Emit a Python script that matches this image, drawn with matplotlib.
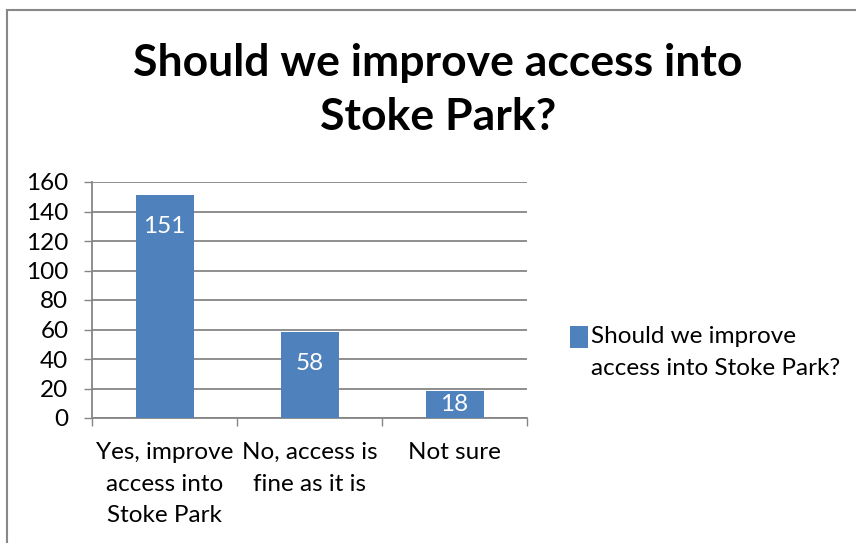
import matplotlib.pyplot as plt
from matplotlib.patches import Rectangle
from matplotlib.legend_handler import HandlerPatch

categories = ["Yes, improve\naccess into\nStoke Park", "No, access is\nfine as it is", "Not sure"]
values = [151, 58, 18]
series_name = "Should we improve\naccess into Stoke Park?"
title = "Should we improve access into\nStoke Park?"
yticks = [0, 20, 40, 60, 80, 100, 120, 140, 160]

plt.rcParams['font.family'] = ['Lato', 'DejaVu Sans']
bar_color = "#4F81BD"
grid_color = "#868686"
fs = 17.5

fig = plt.figure(figsize=(8.56, 5.43), dpi=100)
ax = fig.add_axes([92 / 856, 1 - 418 / 543, 435 / 856, 236 / 543])

x = list(range(len(categories)))
bars = ax.bar(x, values, width=0.4, color=bar_color, label=series_name, zorder=3)

# value labels inside the bar ends
for xi, v in zip(x, values):
    ypos = max(v - 21, v / 2)
    ax.text(xi, ypos, str(v), ha="center", va="center", color="white", fontsize=fs, zorder=4)

ax.set_xlim(-0.5, len(categories) - 0.5)
ax.set_ylim(0, 160)
ax.set_yticks(yticks)
ax.yaxis.grid(True, color=grid_color, lw=1.3, zorder=0)
ax.tick_params(axis="y", labelsize=fs, length=6, color=grid_color, width=1, pad=11)

# tick marks at category boundaries, labels at category centres
ax.set_xticks([i - 0.5 for i in range(len(categories) + 1)])
ax.set_xticklabels([])
ax.set_xticks(x, minor=True)
ax.set_xticklabels(categories, minor=True, fontsize=fs, linespacing=1.62, va="top")
ax.tick_params(axis="x", which="major", length=6, color=grid_color, width=1)
ax.tick_params(axis="x", which="minor", length=0, pad=17.5)

for s in ["top", "right"]:
    ax.spines[s].set_visible(False)
for s in ["left", "bottom"]:
    ax.spines[s].set_color(grid_color)
    ax.spines[s].set_linewidth(1.3)

fig.text(438 / 856, 1 - 90 / 543, title, ha="center", va="center", fontsize=32,
         fontweight="bold", linespacing=1.4)


def small_square(legend, orig_handle, xdescent, ydescent, width, height, fontsize):
    side = 0.46 * fontsize
    return Rectangle((-xdescent, -ydescent + (height - side) / 2), side, side)


leg = ax.legend(loc="upper left", bbox_to_anchor=(1.077, 0.43), frameon=False, fontsize=fs,
                handlelength=0.75, handleheight=1.0, handletextpad=0.1, borderaxespad=0,
                handler_map={type(bars.patches[0]): HandlerPatch(patch_func=small_square)})
for t in leg.get_texts():
    t.set_linespacing(1.62)
# put the legend square beside the first line of the label
for col in leg._legend_handle_box.get_children():
    for item in col.get_children():
        item.align = "top"

# chart border
fig.patches.append(Rectangle((7 / 856, -0.1), 1.2, 1 - 10 / 543 + 0.1, transform=fig.transFigure,
                             fill=False, edgecolor="#888888", lw=1.5))

fig.savefig("out.png", dpi=100)
